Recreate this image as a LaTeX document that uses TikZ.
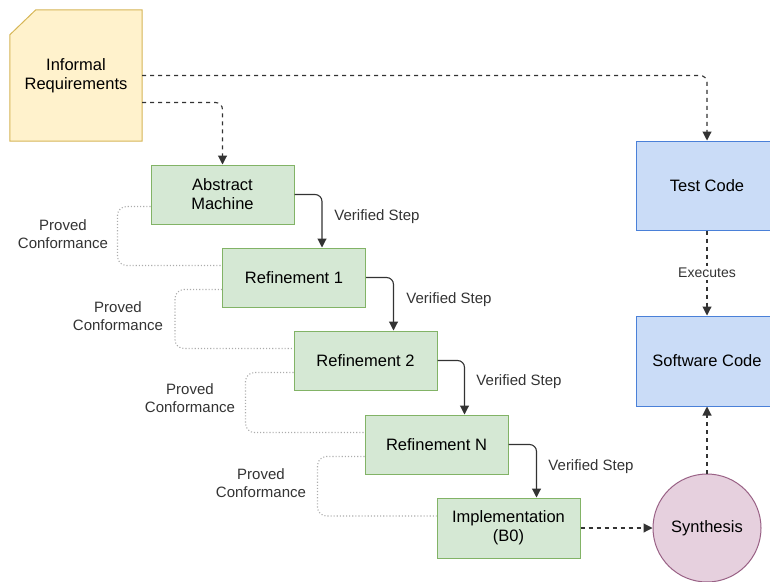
\documentclass[tikz,border=0pt]{standalone}
\usepackage{fontspec}
\setmainfont{Liberation Sans}
\usetikzlibrary{arrows.meta,backgrounds}

\definecolor{reqfill}{HTML}{FFF2CC}
\definecolor{reqline}{HTML}{D6B656}
\definecolor{stagefill}{HTML}{D5E8D4}
\definecolor{stageline}{HTML}{82B366}
\definecolor{codefill}{HTML}{CADCF7}
\definecolor{codeline}{HTML}{4A80D8}
\definecolor{synfill}{HTML}{E6D0DE}
\definecolor{synline}{HTML}{996185}
\definecolor{edgegray}{HTML}{333333}

\begin{document}
\begin{tikzpicture}[x=1pt,y=-1pt,
  boxfont/.style={font=\fontsize{16.5}{19}\selectfont},
  stage/.style={boxfont,draw=stageline,fill=stagefill,line width=1pt,
    minimum width=143pt,minimum height=59pt,align=center},
  codebox/.style={boxfont,draw=codeline,fill=codefill,line width=1pt,
    minimum width=142pt,minimum height=89pt,align=center},
  lbl/.style={font=\fontsize{15}{17.5}\selectfont,align=center,text=edgegray},
  verified/.style={draw=edgegray,line width=1.1pt,rounded corners=7pt,
    -{Triangle[length=9pt,width=9pt]}},
  conform/.style={draw=gray!65,line width=1.1pt,dotted,rounded corners=9pt},
  flow/.style={draw=edgegray,line width=1.1pt,dash pattern=on 4pt off 4pt,
    rounded corners=7pt,-{Triangle[length=9pt,width=9pt]}}]
\useasboundingbox (0,0) rectangle (770,581);
\clip (0,0) rectangle (770,581);

% requirements card
\node[boxfont,minimum width=132pt,minimum height=131pt,align=center] (req) at (76,75.5) {Informal\\Requirements};
\begin{scope}[on background layer]
\draw[draw=reqline,fill=reqfill,line width=1pt] (req.south west) -- (req.south east) -- (req.north east)
  -- ([xshift=26pt]req.north west) -- ([yshift=-25pt]req.north west) -- cycle;
\end{scope}

% refinement chain
\node[stage] (abs) at (222.5,194.5) {Abstract\\Machine};
\node[stage] (ref1) at (294,277.5) {Refinement 1};
\node[stage] (ref2) at (365.5,360.5) {Refinement 2};
\node[stage] (refn) at (436.5,444.5) {Refinement N};
\node[stage,minimum height=60pt] (impl) at (508.5,528) {Implementation\\(B0)};

% code side
\node[codebox] (test) at (707,185.5) {Test Code};
\node[codebox,minimum height=90pt] (soft) at (707,361) {Software Code};
\node[boxfont,circle,draw=synline,fill=synfill,line width=1pt,minimum size=108pt] (syn) at (707,528) {Synthesis};

% verified steps
\draw[verified] (abs.east) -| ([xshift=28pt]ref1.north);
\draw[verified] (ref1.east) -| ([xshift=28pt]ref2.north);
\draw[verified] (ref2.east) -| ([xshift=28pt]refn.north);
\draw[verified] (refn.east) -| ([xshift=28pt]impl.north);
\node[lbl] (vs1) at (377,217) {Verified Step};
\node[lbl] (vs2) at (449,300) {Verified Step};
\node[lbl] (vs3) at (519,382) {Verified Step};
\node[lbl] (vs4) at (591,467) {Verified Step};

% proved conformance
\draw[conform] ([yshift=-12pt]abs.west) -- ++(-33,0) |- ([yshift=12pt]ref1.west);
\draw[conform] ([yshift=-12pt]ref1.west) -- ++(-47,0) |- ([yshift=12pt]ref2.west);
\draw[conform] ([yshift=-12pt]ref2.west) -- ++(-48,0) |- ([yshift=12pt]refn.west);
\draw[conform] ([yshift=-12pt]refn.west) -- ++(-47,0) |- ([yshift=12pt]impl.west);
\node[lbl] (pc1) at (63,234) {Proved\\Conformance};
\node[lbl] (pc2) at (118,316) {Proved\\Conformance};
\node[lbl] (pc3) at (190,398) {Proved\\Conformance};
\node[lbl] (pc4) at (261,483) {Proved\\Conformance};

% dashed flows
\draw[flow] (req.east) -| (test.north);
\draw[flow] ([yshift=-27pt]req.east) -| (abs.north);
\draw[flow] (test.south) -- node[lbl,fill=white,font=\fontsize{14}{16}\selectfont,inner sep=2pt] (exe) {Executes} (soft.north);
\draw[flow] (impl.east) -- (syn.west);
\draw[flow] (syn.north) -- (soft.south);
\end{tikzpicture}
\end{document}
